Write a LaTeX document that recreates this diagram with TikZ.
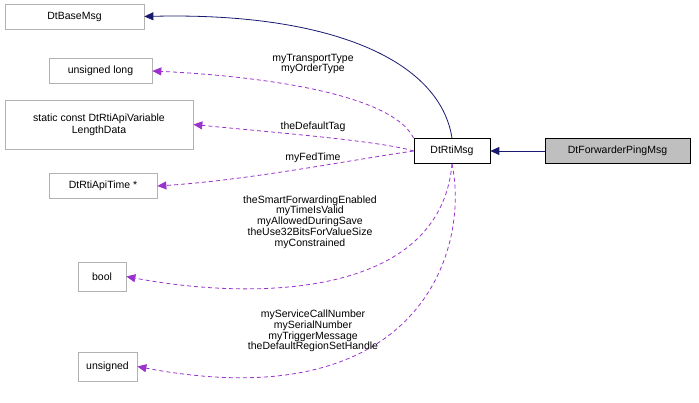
\documentclass[tikz,border=0pt]{standalone}
\usepackage{fontspec}
\setmainfont{Liberation Sans}
\usetikzlibrary{arrows.meta}
\definecolor{orchid}{HTML}{9A32CD}
\definecolor{mnavy}{HTML}{191970}
\begin{document}
\begin{tikzpicture}[x=1pt,y=-1pt,
  box/.style={draw=#1,fill=white,minimum height=25pt,inner sep=3pt,font=\fontsize{10.5}{12}\selectfont,align=center,line width=0.7pt},
  box/.default={black!30},
  dep/.style={draw=orchid,dashed,dash pattern=on 4pt off 3pt,-{Triangle[length=9pt,width=8pt]},line width=0.8pt},
  inh/.style={draw=mnavy,-{Triangle[length=9pt,width=8pt]},line width=0.8pt},
  lbl/.style={font=\fontsize{10.5}{10.8}\selectfont,align=center,inner sep=0pt}]
\useasboundingbox (0,0) rectangle (699,402);
\node[box,minimum width=139pt] (base) at (74.5,16.5) {DtBaseMsg};
\node[box,minimum width=103pt] (ul) at (100.5,71) {unsigned long};
\node[box,minimum width=188pt,minimum height=49pt] (sc) at (99,124.5) {static const DtRtiApiVariable\\LengthData};
\node[box,minimum width=108pt] (time) at (103,186) {DtRtiApiTime *};
\node[box,minimum width=48pt,minimum height=29pt] (bool) at (102,276.5) {bool};
\node[box,minimum width=59pt,minimum height=29pt] (uns) at (107.5,366.5) {unsigned};
\node[box=black,minimum width=76pt] (rti) at (452,151) {DtRtiMsg};
\node[box=black,fill=black!25,minimum width=145pt] (fw) at (617.5,151) {DtForwarderPingMsg};
\draw[inh] (fw) -- (rti);
\draw[inh] (rti.north) .. controls (440,60) and (330,12) .. (base.east);
\draw[dep] (rti.north west) .. controls (390,90) and (240,75) .. (ul.east);
\draw[dep] (rti.west) .. controls (380,141) and (280,133) .. (sc.east);
\draw[dep] (rti.west) .. controls (350,160) and (250,180) .. (time.east);
\draw[dep] (rti.south) .. controls (440,300) and (250,300) .. (bool.east);
\draw[dep] (rti.south) .. controls (470,250) and (420,420) .. (uns.east);
\node[lbl] (l1) at (313,64) {myTransportType\\myOrderType};
\node[lbl] (l2) at (313,127) {theDefaultTag};
\node[lbl] (l3) at (313,158) {myFedTime};
\node[lbl] (l4) at (310,222) {theSmartForwardingEnabled\\myTimeIsValid\\myAllowedDuringSave\\theUse32BitsForValueSize\\myConstrained};
\node[lbl] (l5) at (313,331) {myServiceCallNumber\\mySerialNumber\\myTriggerMessage\\theDefaultRegionSetHandle};
\end{tikzpicture}
\end{document}
